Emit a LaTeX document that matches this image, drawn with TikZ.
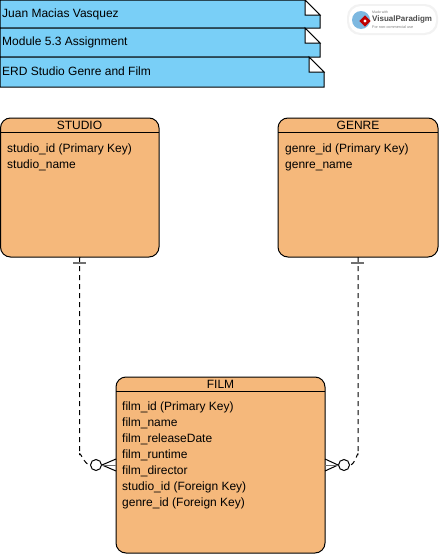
\documentclass[tikz,border=0pt]{standalone}
\usepackage{fontspec}
\setmainfont{Liberation Sans}
\definecolor{noteblue}{HTML}{79CFF7}
\definecolor{entityorange}{HTML}{F5B87B}
\definecolor{tickgray}{HTML}{707070}
\definecolor{globeblue}{HTML}{7DB8E0}
\tikzset{
  entity/.style={draw, line width=1pt, fill=entityorange, rounded corners=10pt, anchor=north west, inner sep=0pt, outer sep=0pt},
  header/.style={font=\fontsize{12}{14}\selectfont, inner sep=0pt},
  attrs/.style={font=\fontsize{12}{16}\selectfont, align=left, anchor=north west, inner sep=0pt},
  notetext/.style={font=\fontsize{12}{14}\selectfont, anchor=west, inner sep=0pt},
  notebox/.style={draw, line width=1pt, fill=noteblue},
  foldbox/.style={draw, line width=1pt, fill=white, line join=miter},
  optional/.style={draw, line width=1pt, circle, fill=white, minimum size=11pt, inner sep=0pt},
  relation/.style={line width=1pt, dash pattern=on 5pt off 4pt},
  crowfoot/.style={line width=1pt},
}
\begin{document}
\begin{tikzpicture}[x=1pt,y=-1pt]
    \useasboundingbox (0,0) rectangle (441,554);
    % notes
    \draw [notebox] (0,0) -- (305,0) -- (320,15) -- (320,28) -- (0,28) -- cycle;
    \draw [foldbox] (305,0) -- (320,15) -- (305,15) -- cycle;
    \node [notetext] (author) at (2,14.5) {Juan Macias Vasquez};
    \draw [notebox] (0,28) -- (305,28) -- (320,43) -- (320,57) -- (0,57) -- cycle;
    \draw [foldbox] (305,28) -- (320,43) -- (305,43) -- cycle;
    \node [notetext] (module) at (2,42.5) {Module 5.3 Assignment};
    \draw [notebox] (0,57) -- (309,57) -- (324,72) -- (324,87) -- (0,87) -- cycle;
    \draw [foldbox] (309,57) -- (324,72) -- (309,72) -- cycle;
    \node [notetext] (title) at (2,71.5) {ERD Studio Genre and Film};
    % badge
    \fill [black!5, rounded corners=13pt] (347,4) rectangle (438,35);
    \fill [white, rounded corners=12pt] (349,6) rectangle (436,33);
    \fill [globeblue] (361,20) circle (9pt);
    \fill [red!75!black, rotate around={45:(365,21)}] (361,17) rectangle (369,25);
    \fill [white] (365,21) circle (1.6pt);
    \node [font=\fontsize{3.5}{4}\selectfont, text=black!50, anchor=west, inner sep=0pt] (badgetop) at (372,12) {Made with};
    \node [font=\bfseries\fontsize{8}{9}\selectfont, text=black!70, anchor=west, inner sep=0pt] (badgename) at (372,19) {VisualParadigm};
    \node [font=\fontsize{3.8}{4}\selectfont, text=black!50, anchor=west, inner sep=0pt] (badgeuse) at (372,27) {For non-commercial use};
    % entities
    \node [entity, minimum width=158.5pt, minimum height=139pt] (studio) at (0.5,118) {};
    \draw [line width=1pt] (0.5,132) -- (159,132);
    \node [header] (studiohead) at (79.5,125) {STUDIO};
    \node [attrs] (studioattrs) at (7,143.5) {studio\_id (Primary Key)\\studio\_name};
    \node [entity, minimum width=160pt, minimum height=139pt] (genre) at (278,118) {};
    \draw [line width=1pt] (278,132) -- (438,132);
    \node [header] (genrehead) at (358,125) {GENRE};
    \node [attrs] (genreattrs) at (285,143.5) {genre\_id (Primary Key)\\genre\_name};
    \node [entity, minimum width=209pt, minimum height=176pt] (film) at (116,377) {};
    \draw [line width=1pt] (116,391) -- (325,391);
    \node [header] (filmhead) at (220.5,384) {FILM};
    \node [attrs] (filmattrs) at (122,401.5) {film\_id (Primary Key)\\film\_name\\film\_releaseDate\\film\_runtime\\film\_director\\studio\_id (Foreign Key)\\genre\_id (Foreign Key)};
    % relations
    \node [optional] (studiocircle) at (96,465) {};
    \node [optional] (genrecircle) at (344,465) {};
    \coordinate (studiobend) at (79.5,455);
    \coordinate (genrebend) at (358,455);
    \coordinate (footup) at (0,459);
    \coordinate (footdown) at (0,471);
    \draw [relation] (studio.south) -- (studiobend) to [out=90,in=180] (studiocircle.west);
    \draw [relation] (genre.south) -- (genrebend) to [out=90,in=0] (genrecircle.east);
    \draw [line width=1.2pt, tickgray] (73,263) -- (86,263);
    \draw [line width=1.2pt, tickgray] (351,263) -- (364,263);
    \draw [crowfoot] (studiocircle.east) -- (film.west |- footup);
    \draw [crowfoot] (studiocircle.east) -- (film.west |- footdown);
    \draw [crowfoot, tickgray] (studiocircle.east) -- (film.west |- studiocircle.east);
    \draw [crowfoot] (genrecircle.west) -- (film.east |- footup);
    \draw [crowfoot] (genrecircle.west) -- (film.east |- footdown);
    \draw [crowfoot, tickgray] (genrecircle.west) -- (film.east |- genrecircle.west);
  \end{tikzpicture}
\end{document}
